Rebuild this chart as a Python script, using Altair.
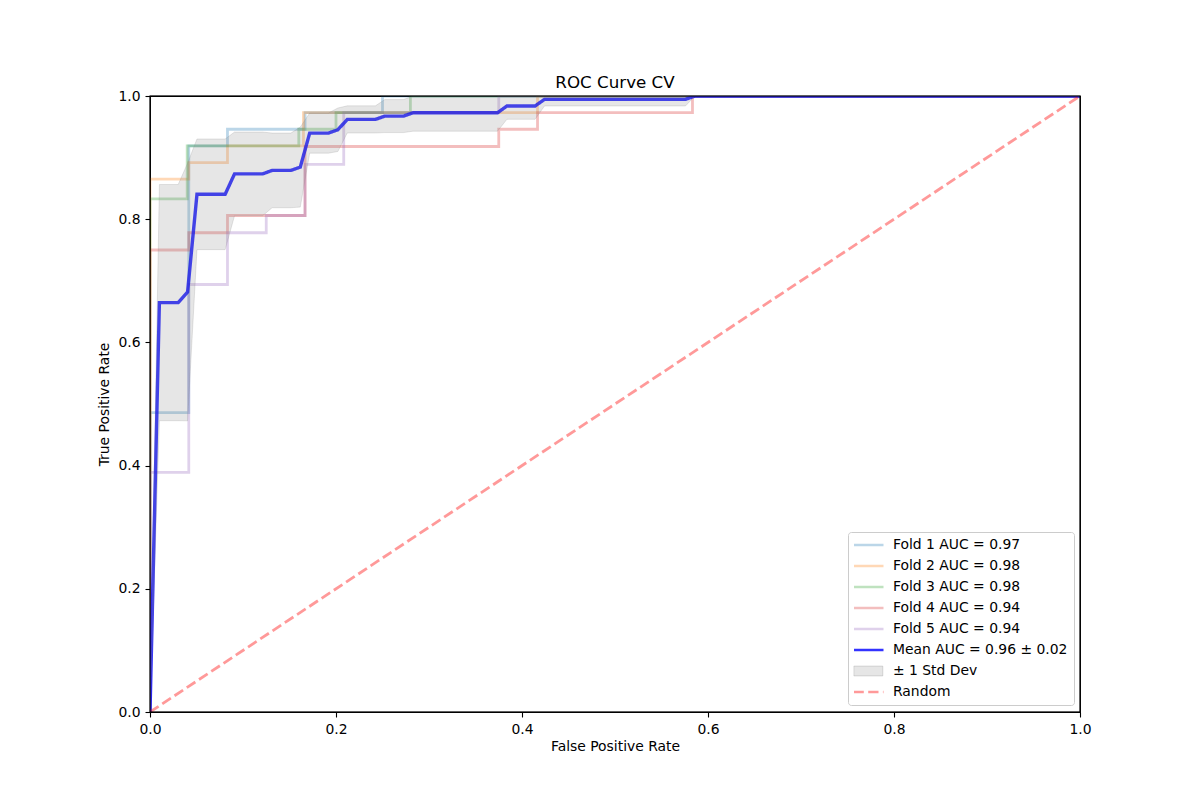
import altair as alt
import pandas as pd

# ---------------- data ----------------
series_names = [
    "Fold 1 AUC = 0.97",
    "Fold 2 AUC = 0.98",
    "Fold 3 AUC = 0.98",
    "Fold 4 AUC = 0.94",
    "Fold 5 AUC = 0.94",
    "Mean AUC = 0.96 ± 0.02",
    "± 1 Std Dev",
    "Random",
]
series_colors = [
    "rgba(31,119,180,0.3)",
    "rgba(255,127,14,0.3)",
    "rgba(44,160,44,0.3)",
    "rgba(214,39,40,0.3)",
    "rgba(148,103,189,0.3)",
    "rgba(0,0,255,0.8)",
    "transparent",
    "rgba(255,0,0,0.4)",
]
series_dashes = [[1, 0], [1, 0], [1, 0], [1, 0], [1, 0], [1, 0], [1, 0], [10.3, 4.4]]
band_name = ["± 1 Std Dev"]
band_color = ["rgba(128,128,128,0.2)"]

fold1_fpr = [0.0, 0.0, 0.0417, 0.0417, 0.0833, 0.0833, 0.1667, 0.1667, 0.25, 0.25, 1.0]
fold1_tpr = [0.0, 0.486, 0.486, 0.919, 0.919, 0.946, 0.946, 0.973, 0.973, 1.0, 1.0]
fold2_fpr = [0.0, 0.0, 0.0417, 0.0417, 0.0833, 0.0833, 0.165, 0.165, 0.4167, 0.4167, 1.0]
fold2_tpr = [0.0, 0.865, 0.865, 0.892, 0.892, 0.919, 0.919, 0.973, 0.973, 1.0, 1.0]
fold3_fpr = [0.0, 0.0, 0.04, 0.04, 0.16, 0.16, 0.2, 0.2, 0.28, 0.28, 1.0]
fold3_tpr = [0.0, 0.833, 0.833, 0.919, 0.919, 0.946, 0.946, 0.973, 0.973, 1.0, 1.0]
fold4_fpr = [0.0, 0.0, 0.0417, 0.0417, 0.0833, 0.0833, 0.1667, 0.1667, 0.375, 0.375,
             0.4167, 0.4167, 0.5833, 0.5833, 1.0]
fold4_tpr = [0.0, 0.75, 0.75, 0.778, 0.778, 0.806, 0.806, 0.918, 0.918, 0.946,
             0.946, 0.973, 0.973, 1.0, 1.0]
fold5_fpr = [0.0, 0.0, 0.0417, 0.0417, 0.0833, 0.0833, 0.125, 0.125, 0.1667, 0.1667,
             0.2083, 0.2083, 0.375, 0.375, 1.0]
fold5_tpr = [0.0, 0.389, 0.389, 0.694, 0.694, 0.778, 0.778, 0.806, 0.806, 0.889,
             0.889, 0.973, 0.973, 1.0, 1.0]

mean_fpr = [0.0, 0.0101, 0.0303, 0.0404, 0.0505, 0.0808, 0.0909, 0.1212, 0.1313, 0.1515,
            0.1616, 0.1717, 0.1919, 0.2020, 0.2121, 0.2424, 0.2525, 0.2727, 0.2828, 0.3737,
            0.3838, 0.4141, 0.4242, 0.5758, 0.5859, 1.0]
mean_tpr = [0.0, 0.6646, 0.6646, 0.6818, 0.8404, 0.8404, 0.8736, 0.8736, 0.8792, 0.8792,
            0.8846, 0.9398, 0.9398, 0.9452, 0.962, 0.962, 0.9674, 0.9674, 0.9728, 0.9728,
            0.9838, 0.9838, 0.9946, 0.9946, 1.0, 1.0]
band_lower = [0.0, 0.4729, 0.4729, 0.4727, 0.7506, 0.7506, 0.8057, 0.8057, 0.8186, 0.8186,
              0.8197, 0.9072, 0.9072, 0.9099, 0.940, 0.940, 0.9406, 0.9406, 0.9429, 0.9429,
              0.9622, 0.9622, 0.9838, 0.9838, 1.0, 1.0]
band_upper = [0.0, 0.8563, 0.8563, 0.8909, 0.9302, 0.9302, 0.9415, 0.9415, 0.9398, 0.9398,
              0.9495, 0.9724, 0.9724, 0.9805, 0.984, 0.984, 0.9942, 0.9942, 1.0, 1.0,
              1.0, 1.0, 1.0, 1.0, 1.0, 1.0]

random_fpr = [0.0, 1.0]
random_tpr = [0.0, 1.0]

tick_values = [0.0, 0.2, 0.4, 0.6, 0.8, 1.0]

# ---------------- tables ----------------
fold_rows = []
for name, fx, fy in zip(series_names[:5],
                        [fold1_fpr, fold2_fpr, fold3_fpr, fold4_fpr, fold5_fpr],
                        [fold1_tpr, fold2_tpr, fold3_tpr, fold4_tpr, fold5_tpr]):
    for i, (a, b) in enumerate(zip(fx, fy)):
        fold_rows.append({"series": name, "fpr": a, "tpr": b, "idx": i})
df_folds = pd.DataFrame(fold_rows)

df_mean = pd.DataFrame({"series": series_names[5], "fpr": mean_fpr, "tpr": mean_tpr,
                        "idx": list(range(len(mean_fpr)))})
df_band = pd.DataFrame({"band": band_name[0], "fpr": mean_fpr,
                        "lower": band_lower, "upper": band_upper})
df_rand = pd.DataFrame({"series": series_names[7], "fpr": random_fpr, "tpr": random_tpr,
                        "idx": [0, 1]})
df_frame = pd.DataFrame({"x0": [0.0], "x1": [1.0], "y0": [0.0], "y1": [1.0]})

FONT = "DejaVu Sans"

legend = alt.Legend(
    title=None, orient="none", legendX=698, legendY=436, padding=6,
    fillColor="rgba(255,255,255,0.8)", strokeColor="#cccccc", cornerRadius=3,
    labelFont=FONT, labelFontSize=13.9, labelColor="black", labelLimit=400,
    rowPadding=7, clipHeight=14, symbolType="stroke", symbolSize=900,
    symbolStrokeWidth=2.6, symbolOpacity=1, symbolOffset=-2, labelOffset=8, zindex=0,
)
band_legend = alt.Legend(
    title=None, orient="none", legendX=703.3, legendY=568, padding=0,
    clipHeight=14, symbolType="M-1,-0.34H1V0.34H-1Z", symbolSize=841,
    symbolStrokeColor="rgba(128,128,128,0.25)", symbolStrokeWidth=1, symbolOpacity=1,
    labelExpr="''", labelFontSize=13.9, zindex=1,
)

color = alt.Color("series:N", scale=alt.Scale(domain=series_names, range=series_colors),
                  legend=legend)
dash = alt.StrokeDash("series:N", scale=alt.Scale(domain=series_names, range=series_dashes),
                      legend=legend)

xscale = alt.Scale(domain=[0, 1], nice=False, zero=False)
yscale = alt.Scale(domain=[0, 1], nice=False, zero=False)
xaxis = alt.Axis(values=tick_values, format=".1f", title="False Positive Rate", titlePadding=4)
yaxis = alt.Axis(values=tick_values, format=".1f", title="True Positive Rate", titlePadding=6)

folds = alt.Chart(df_folds).mark_line(clip=True, strokeWidth=2.8).encode(
    x=alt.X("fpr:Q", scale=xscale, axis=xaxis),
    y=alt.Y("tpr:Q", scale=yscale, axis=yaxis),
    color=color, strokeDash=dash,
    order="idx:Q",
)
mean = alt.Chart(df_mean).mark_line(clip=True, strokeWidth=3.4).encode(
    x="fpr:Q", y="tpr:Q", color=color, strokeDash=dash, order="idx:Q",
)
band = alt.Chart(df_band).mark_area(clip=True, opacity=1, stroke="rgba(128,128,128,0.2)",
                                    strokeWidth=1).encode(
    x="fpr:Q", y="lower:Q", y2="upper:Q",
    fill=alt.Fill("band:N", scale=alt.Scale(domain=band_name, range=band_color),
                  legend=band_legend),
)
rand = alt.Chart(df_rand).mark_line(clip=True, strokeWidth=2.8).encode(
    x="fpr:Q", y="tpr:Q", color=color, strokeDash=dash, order="idx:Q",
)
frame = alt.Chart(df_frame).mark_rect(filled=False, stroke="black", strokeWidth=1.1).encode(
    x="x0:Q", x2="x1:Q", y="y0:Q", y2="y1:Q",
)

chart = (
    alt.layer(folds, mean, band, rand, frame)
    .properties(
        width=930, height=616,
        autosize=alt.AutoSizeParams(type="none"),
        padding={"left": 142, "top": 88, "right": 112, "bottom": 80},
        title=alt.TitleParams("ROC Curve CV", font=FONT, fontSize=16.7, fontWeight="normal",
                              color="black", anchor="middle", offset=-3, frame="group"),
        background="white",
    )
    .configure_view(stroke="black", strokeWidth=1.1)
    .configure_axis(
        grid=False, domain=False, tickColor="black", tickSize=5, tickWidth=1.1,
        labelPadding=5, labelFont=FONT, labelFontSize=13.9, labelColor="black",
        titleFont=FONT, titleFontSize=13.9, titleFontWeight="normal", titleColor="black",
        labelFlush=False, labelOverlap=False,
    )
)

chart.save("out.html", embed_options={"renderer": "svg", "actions": False})
